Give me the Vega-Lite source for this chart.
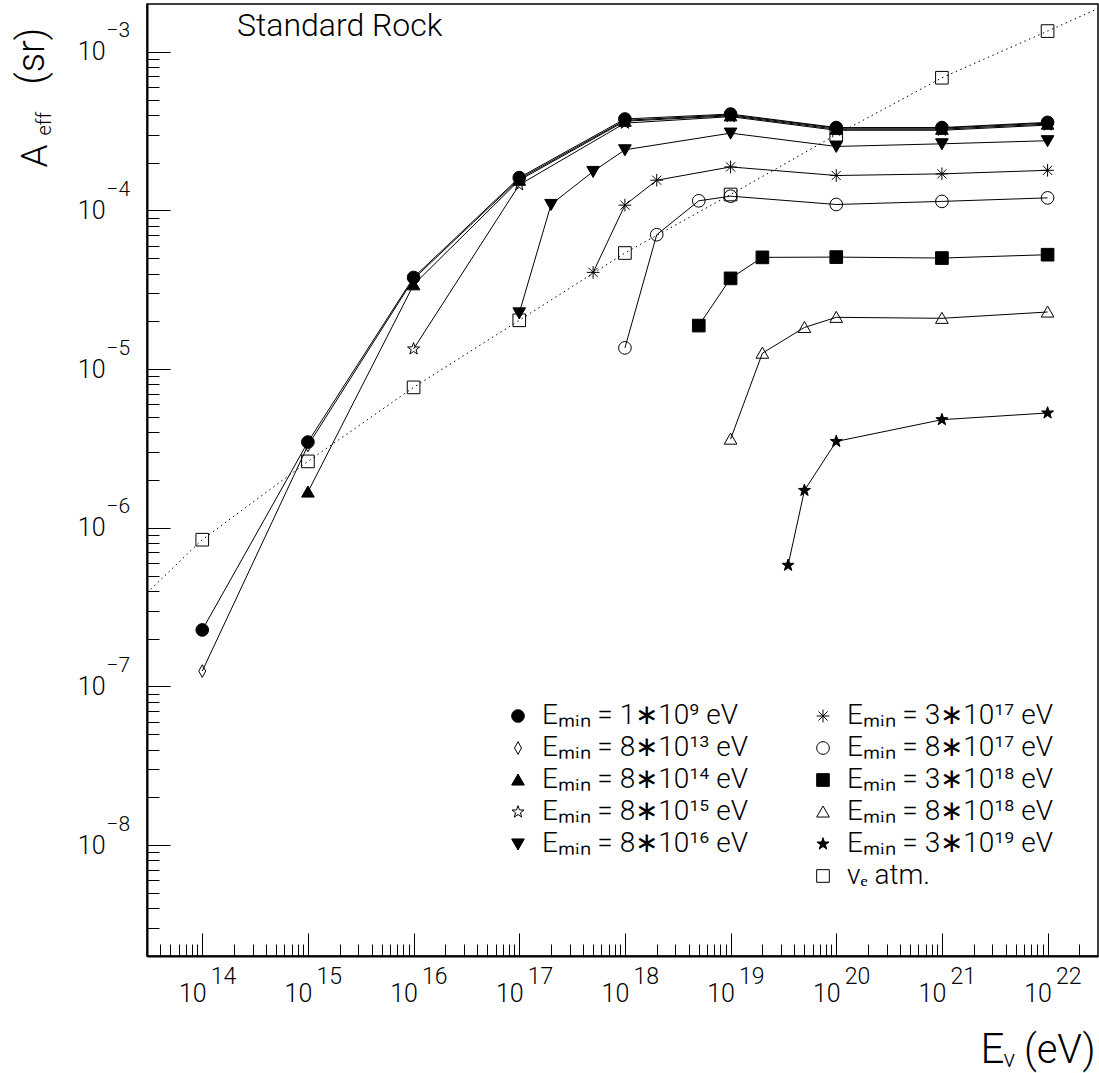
{
  "$schema": "https://vega.github.io/schema/vega-lite/v6.json",
  "autosize": "none",
  "width": 951,
  "height": 952,
  "padding": {"left": 147, "top": 4, "right": 1, "bottom": 117},
  "title": {"text": "Standard Rock", "anchor": "start", "frame": "group", "orient": "top", "offset": 0, "baseline": "alphabetic", "dx": 90, "dy": 64, "fontSize": 32, "font": "Roboto", "fontWeight": 300, "color": "black"},
  "datasets": {
    "curve": [
      {"E": 3e13, "A": 3.89e-7},
      {"E": 1e14, "A": 8.41e-7},
      {"E": 1e15, "A": 2.62e-6},
      {"E": 1e16, "A": 7.67e-6},
      {"E": 1e17, "A": 2.03e-5},
      {"E": 1e18, "A": 5.39e-5},
      {"E": 1e19, "A": 1.26e-4},
      {"E": 1e20, "A": 3.0e-4},
      {"E": 1e21, "A": 6.86e-4},
      {"E": 1e22, "A": 1.35e-3},
      {"E": 3e22, "A": 1.87e-3}
    ],
    "atm": [
      {"s": "νₑ atm.", "E": 1e14, "A": 8.41e-7},
      {"s": "νₑ atm.", "E": 1e15, "A": 2.62e-6},
      {"s": "νₑ atm.", "E": 1e16, "A": 7.67e-6},
      {"s": "νₑ atm.", "E": 1e17, "A": 2.03e-5},
      {"s": "νₑ atm.", "E": 1e18, "A": 5.39e-5},
      {"s": "νₑ atm.", "E": 1e19, "A": 1.26e-4},
      {"s": "νₑ atm.", "E": 1e20, "A": 3.0e-4},
      {"s": "νₑ atm.", "E": 1e21, "A": 6.86e-4},
      {"s": "νₑ atm.", "E": 1e22, "A": 1.35e-3}
    ],
    "series": [
      {"s": "Eₘᵢₙ = 1∗10⁹ eV", "E": 1e14, "A": 2.27e-7},
      {"s": "Eₘᵢₙ = 1∗10⁹ eV", "E": 1e15, "A": 3.47e-6},
      {"s": "Eₘᵢₙ = 1∗10⁹ eV", "E": 1e16, "A": 3.78e-5},
      {"s": "Eₘᵢₙ = 1∗10⁹ eV", "E": 1e17, "A": 1.61e-4},
      {"s": "Eₘᵢₙ = 1∗10⁹ eV", "E": 1e18, "A": 3.77e-4},
      {"s": "Eₘᵢₙ = 1∗10⁹ eV", "E": 1e19, "A": 4.05e-4},
      {"s": "Eₘᵢₙ = 1∗10⁹ eV", "E": 1e20, "A": 3.33e-4},
      {"s": "Eₘᵢₙ = 1∗10⁹ eV", "E": 1e21, "A": 3.33e-4},
      {"s": "Eₘᵢₙ = 1∗10⁹ eV", "E": 1e22, "A": 3.59e-4},
      {"s": "Eₘᵢₙ = 8∗10¹³ eV", "E": 1e14, "A": 1.25e-7},
      {"s": "Eₘᵢₙ = 8∗10¹³ eV", "E": 1e15, "A": 3.3e-6},
      {"s": "Eₘᵢₙ = 8∗10¹³ eV", "E": 1e16, "A": 3.7e-5},
      {"s": "Eₘᵢₙ = 8∗10¹³ eV", "E": 1e17, "A": 1.58e-4},
      {"s": "Eₘᵢₙ = 8∗10¹³ eV", "E": 1e18, "A": 3.7e-4},
      {"s": "Eₘᵢₙ = 8∗10¹³ eV", "E": 1e19, "A": 4.0e-4},
      {"s": "Eₘᵢₙ = 8∗10¹³ eV", "E": 1e20, "A": 3.3e-4},
      {"s": "Eₘᵢₙ = 8∗10¹³ eV", "E": 1e21, "A": 3.3e-4},
      {"s": "Eₘᵢₙ = 8∗10¹³ eV", "E": 1e22, "A": 3.55e-4},
      {"s": "Eₘᵢₙ = 8∗10¹⁴ eV", "E": 1e15, "A": 1.68e-6},
      {"s": "Eₘᵢₙ = 8∗10¹⁴ eV", "E": 1e16, "A": 3.4e-5},
      {"s": "Eₘᵢₙ = 8∗10¹⁴ eV", "E": 1e17, "A": 1.55e-4},
      {"s": "Eₘᵢₙ = 8∗10¹⁴ eV", "E": 1e18, "A": 3.65e-4},
      {"s": "Eₘᵢₙ = 8∗10¹⁴ eV", "E": 1e19, "A": 3.95e-4},
      {"s": "Eₘᵢₙ = 8∗10¹⁴ eV", "E": 1e20, "A": 3.25e-4},
      {"s": "Eₘᵢₙ = 8∗10¹⁴ eV", "E": 1e21, "A": 3.25e-4},
      {"s": "Eₘᵢₙ = 8∗10¹⁴ eV", "E": 1e22, "A": 3.5e-4},
      {"s": "Eₘᵢₙ = 8∗10¹⁵ eV", "E": 1e16, "A": 1.34e-5},
      {"s": "Eₘᵢₙ = 8∗10¹⁵ eV", "E": 1e17, "A": 1.45e-4},
      {"s": "Eₘᵢₙ = 8∗10¹⁵ eV", "E": 1e18, "A": 3.55e-4},
      {"s": "Eₘᵢₙ = 8∗10¹⁵ eV", "E": 1e19, "A": 3.9e-4},
      {"s": "Eₘᵢₙ = 8∗10¹⁵ eV", "E": 1e20, "A": 3.2e-4},
      {"s": "Eₘᵢₙ = 8∗10¹⁵ eV", "E": 1e21, "A": 3.2e-4},
      {"s": "Eₘᵢₙ = 8∗10¹⁵ eV", "E": 1e22, "A": 3.45e-4},
      {"s": "Eₘᵢₙ = 8∗10¹⁶ eV", "E": 1e17, "A": 2.26e-5},
      {"s": "Eₘᵢₙ = 8∗10¹⁶ eV", "E": 2e17, "A": 1.09e-4},
      {"s": "Eₘᵢₙ = 8∗10¹⁶ eV", "E": 5e17, "A": 1.76e-4},
      {"s": "Eₘᵢₙ = 8∗10¹⁶ eV", "E": 1e18, "A": 2.41e-4},
      {"s": "Eₘᵢₙ = 8∗10¹⁶ eV", "E": 1e19, "A": 3.07e-4},
      {"s": "Eₘᵢₙ = 8∗10¹⁶ eV", "E": 1e20, "A": 2.53e-4},
      {"s": "Eₘᵢₙ = 8∗10¹⁶ eV", "E": 1e21, "A": 2.63e-4},
      {"s": "Eₘᵢₙ = 8∗10¹⁶ eV", "E": 1e22, "A": 2.75e-4},
      {"s": "Eₘᵢₙ = 3∗10¹⁷ eV", "E": 5e17, "A": 4.07e-5},
      {"s": "Eₘᵢₙ = 3∗10¹⁷ eV", "E": 1e18, "A": 1.08e-4},
      {"s": "Eₘᵢₙ = 3∗10¹⁷ eV", "E": 2e18, "A": 1.55e-4},
      {"s": "Eₘᵢₙ = 3∗10¹⁷ eV", "E": 1e19, "A": 1.88e-4},
      {"s": "Eₘᵢₙ = 3∗10¹⁷ eV", "E": 1e20, "A": 1.66e-4},
      {"s": "Eₘᵢₙ = 3∗10¹⁷ eV", "E": 1e21, "A": 1.7e-4},
      {"s": "Eₘᵢₙ = 3∗10¹⁷ eV", "E": 1e22, "A": 1.79e-4},
      {"s": "Eₘᵢₙ = 8∗10¹⁷ eV", "E": 1e18, "A": 1.36e-5},
      {"s": "Eₘᵢₙ = 8∗10¹⁷ eV", "E": 2e18, "A": 7.03e-5},
      {"s": "Eₘᵢₙ = 8∗10¹⁷ eV", "E": 5e18, "A": 1.15e-4},
      {"s": "Eₘᵢₙ = 8∗10¹⁷ eV", "E": 1e19, "A": 1.23e-4},
      {"s": "Eₘᵢₙ = 8∗10¹⁷ eV", "E": 1e20, "A": 1.09e-4},
      {"s": "Eₘᵢₙ = 8∗10¹⁷ eV", "E": 1e21, "A": 1.14e-4},
      {"s": "Eₘᵢₙ = 8∗10¹⁷ eV", "E": 1e22, "A": 1.2e-4},
      {"s": "Eₘᵢₙ = 3∗10¹⁸ eV", "E": 5e18, "A": 1.88e-5},
      {"s": "Eₘᵢₙ = 3∗10¹⁸ eV", "E": 1e19, "A": 3.73e-5},
      {"s": "Eₘᵢₙ = 3∗10¹⁸ eV", "E": 2e19, "A": 5.06e-5},
      {"s": "Eₘᵢₙ = 3∗10¹⁸ eV", "E": 1e20, "A": 5.08e-5},
      {"s": "Eₘᵢₙ = 3∗10¹⁸ eV", "E": 1e21, "A": 5.01e-5},
      {"s": "Eₘᵢₙ = 3∗10¹⁸ eV", "E": 1e22, "A": 5.26e-5},
      {"s": "Eₘᵢₙ = 8∗10¹⁸ eV", "E": 1e19, "A": 3.62e-6},
      {"s": "Eₘᵢₙ = 8∗10¹⁸ eV", "E": 2e19, "A": 1.26e-5},
      {"s": "Eₘᵢₙ = 8∗10¹⁸ eV", "E": 5e19, "A": 1.83e-5},
      {"s": "Eₘᵢₙ = 8∗10¹⁸ eV", "E": 1e20, "A": 2.12e-5},
      {"s": "Eₘᵢₙ = 8∗10¹⁸ eV", "E": 1e21, "A": 2.09e-5},
      {"s": "Eₘᵢₙ = 8∗10¹⁸ eV", "E": 1e22, "A": 2.29e-5},
      {"s": "Eₘᵢₙ = 3∗10¹⁹ eV", "E": 3.5e19, "A": 5.8e-7},
      {"s": "Eₘᵢₙ = 3∗10¹⁹ eV", "E": 5e19, "A": 1.72e-6},
      {"s": "Eₘᵢₙ = 3∗10¹⁹ eV", "E": 1e20, "A": 3.5e-6},
      {"s": "Eₘᵢₙ = 3∗10¹⁹ eV", "E": 1e21, "A": 4.8e-6},
      {"s": "Eₘᵢₙ = 3∗10¹⁹ eV", "E": 1e22, "A": 5.29e-6}
    ]
  },
  "layer": [
    {
      "data": {"name": "curve"},
      "mark": {"type": "line", "stroke": "black", "strokeWidth": 1, "strokeDash": [1.5, 3.5]},
      "encoding": {
        "x": {"field": "E", "type": "quantitative", "scale": {"type": "log", "domain": [3e13, 3e22], "nice": false},
          "axis": {"orient": "bottom", "values": [3e13,4e13,5e13,6e13,7e13,8e13,9e13,2e14,3e14,4e14,5e14,6e14,7e14,8e14,9e14,2e15,3e15,4e15,5e15,6e15,7e15,8e15,9e15,2e16,3e16,4e16,5e16,6e16,7e16,8e16,9e16,2e17,3e17,4e17,5e17,6e17,7e17,8e17,9e17,2e18,3e18,4e18,5e18,6e18,7e18,8e18,9e18,2e19,3e19,4e19,5e19,6e19,7e19,8e19,9e19,2e20,3e20,4e20,5e20,6e20,7e20,8e20,9e20,2e21,3e21,4e21,5e21,6e21,7e21,8e21,9e21,2e22],
            "ticks": true, "tickSize": -12, "labels": false, "domain": false, "grid": false,
            "title": "(eV)", "titleFontSize": 40, "titleAngle": 0, "titleAlign": "right", "titleBaseline": "alphabetic", "titleX": 948, "titleY": 106}},
        "y": {"field": "A", "type": "quantitative", "scale": {"type": "log", "domain": [2e-9, 2e-3], "nice": false},
          "axis": {"orient": "left", "values": [2e-9,3e-9,4e-9,5e-9,6e-9,7e-9,8e-9,9e-9,2e-8,3e-8,4e-8,5e-8,6e-8,7e-8,8e-8,9e-8,2e-7,3e-7,4e-7,5e-7,6e-7,7e-7,8e-7,9e-7,2e-6,3e-6,4e-6,5e-6,6e-6,7e-6,8e-6,9e-6,2e-5,3e-5,4e-5,5e-5,6e-5,7e-5,8e-5,9e-5,2e-4,3e-4,4e-4,5e-4,6e-4,7e-4,8e-4,9e-4],
            "ticks": true, "tickSize": -12, "labels": false, "domain": false, "grid": false,
            "title": "(sr)", "titleFontSize": 38, "titleAngle": 270, "titleAlign": "left", "titleBaseline": "alphabetic", "titleX": -104, "titleY": 80}}
      }
    },
    {
      "data": {"name": "series"},
      "mark": {"type": "line", "stroke": "black", "strokeWidth": 1},
      "encoding": {
        "x": {"field": "E", "type": "quantitative", "scale": {"type": "log", "domain": [3e13, 3e22], "nice": false},
          "axis": {"orient": "bottom", "values": [1e14,1e15,1e16,1e17,1e18,1e19,1e20,1e21,1e22], "ticks": true, "tickSize": -23, "labels": false, "domain": true, "domainWidth": 2, "grid": false,
            "title": "E", "titleFontSize": 42, "titleAngle": 0, "titleAlign": "left", "titleBaseline": "alphabetic", "titleX": 833, "titleY": 106}},
        "y": {"field": "A", "type": "quantitative", "scale": {"type": "log", "domain": [2e-9, 2e-3], "nice": false},
          "axis": {"orient": "left", "values": [1e-8,1e-7,1e-6,1e-5,1e-4,1e-3], "ticks": true, "tickSize": -23, "labels": false, "domain": true, "domainWidth": 2, "grid": false,
            "title": "A", "titleFontSize": 37, "titleAlign": "left", "titleBaseline": "alphabetic", "titleY": 163, "titlePadding": 100}},
        "detail": {"field": "s", "type": "nominal"}
      }
    },
    {
      "data": {"name": "series"},
      "mark": {"type": "point", "strokeWidth": 1, "opacity": 1, "size": 160},
      "encoding": {
        "x": {"field": "E", "type": "quantitative", "scale": {"type": "log", "domain": [3e13, 3e22], "nice": false},
          "axis": {"orient": "bottom", "values": [1e14,1e15,1e16,1e17,1e18,1e19,1e20,1e21,1e22], "ticks": false, "domain": false, "grid": false, "labelExpr": "'10'", "labelFontSize": 25, "labelAlign": "center", "labelBaseline": "alphabetic", "labelOffset": -10, "labelPadding": 45,
            "title": "ν", "titleFontSize": 24, "titleAngle": 0, "titleAlign": "left", "titleBaseline": "alphabetic", "titleX": 856, "titleY": 110}},
        "y": {"field": "A", "type": "quantitative", "scale": {"type": "log", "domain": [2e-9, 2e-3], "nice": false},
          "axis": {"orient": "left", "values": [1e-8,1e-7,1e-6,1e-5,1e-4,1e-3], "ticks": false, "domain": false, "grid": false, "labelExpr": "'10'", "labelFontSize": 25, "labelAlign": "right", "labelBaseline": "alphabetic", "labelOffset": 8, "labelPadding": 42,
            "title": "eff", "titleFontSize": 20, "titleAngle": -90, "titleAlign": "left", "titleBaseline": "alphabetic", "titleX": -97, "titleY": 131,
            "encoding": {"title": {"angle": {"value": -90}}}}},
        "shape": {"field": "s", "type": "nominal",
          "scale": {
            "domain": ["Eₘᵢₙ = 1∗10⁹ eV", "Eₘᵢₙ = 8∗10¹³ eV", "Eₘᵢₙ = 8∗10¹⁴ eV", "Eₘᵢₙ = 8∗10¹⁵ eV", "Eₘᵢₙ = 8∗10¹⁶ eV", " ", "Eₘᵢₙ = 3∗10¹⁷ eV", "Eₘᵢₙ = 8∗10¹⁷ eV", "Eₘᵢₙ = 3∗10¹⁸ eV", "Eₘᵢₙ = 8∗10¹⁸ eV", "Eₘᵢₙ = 3∗10¹⁹ eV", "νₑ atm."],
            "range": ["circle", "M0,-1L0.55,0L0,1L-0.55,0Z", "M0,-0.95L1,0.8L-1,0.8Z", "M0,-1L0.235,-0.324L0.951,-0.309L0.38,0.124L0.588,0.809L0,0.4L-0.588,0.809L-0.38,0.124L-0.951,-0.309L-0.235,-0.324Z", "M0,0.95L1,-0.8L-1,-0.8Z", "M0,0", "M-1,0L1,0M0,-1L0,1M-0.72,-0.72L0.72,0.72M-0.72,0.72L0.72,-0.72", "circle", "square", "M0,-0.95L1,0.8L-1,0.8Z", "M0,-1L0.235,-0.324L0.951,-0.309L0.38,0.124L0.588,0.809L0,0.4L-0.588,0.809L-0.38,0.124L-0.951,-0.309L-0.235,-0.324Z", "square"]},
          "legend": {"orient": "none", "legendX": 357, "legendY": 698, "columns": 2, "title": null, "labelFontSize": 28, "symbolSize": 160, "rowPadding": 4, "columnPadding": 60, "labelOffset": 10, "padding": 0, "symbolStrokeWidth": 1, "labelLimit": 500}},
        "fill": {"field": "s", "type": "nominal",
          "scale": {
            "domain": ["Eₘᵢₙ = 1∗10⁹ eV", "Eₘᵢₙ = 8∗10¹³ eV", "Eₘᵢₙ = 8∗10¹⁴ eV", "Eₘᵢₙ = 8∗10¹⁵ eV", "Eₘᵢₙ = 8∗10¹⁶ eV", " ", "Eₘᵢₙ = 3∗10¹⁷ eV", "Eₘᵢₙ = 8∗10¹⁷ eV", "Eₘᵢₙ = 3∗10¹⁸ eV", "Eₘᵢₙ = 8∗10¹⁸ eV", "Eₘᵢₙ = 3∗10¹⁹ eV", "νₑ atm."],
            "range": ["black", "transparent", "black", "transparent", "black", "transparent", "transparent", "transparent", "black", "transparent", "black", "transparent"]},
          "legend": {"orient": "none", "legendX": 357, "legendY": 698, "columns": 2, "title": null, "labelFontSize": 28, "symbolSize": 160, "rowPadding": 4, "columnPadding": 60, "labelOffset": 10, "padding": 0, "symbolStrokeWidth": 1, "labelLimit": 500}},
        "stroke": {"field": "s", "type": "nominal",
          "scale": {
            "domain": ["Eₘᵢₙ = 1∗10⁹ eV", "Eₘᵢₙ = 8∗10¹³ eV", "Eₘᵢₙ = 8∗10¹⁴ eV", "Eₘᵢₙ = 8∗10¹⁵ eV", "Eₘᵢₙ = 8∗10¹⁶ eV", " ", "Eₘᵢₙ = 3∗10¹⁷ eV", "Eₘᵢₙ = 8∗10¹⁷ eV", "Eₘᵢₙ = 3∗10¹⁸ eV", "Eₘᵢₙ = 8∗10¹⁸ eV", "Eₘᵢₙ = 3∗10¹⁹ eV", "νₑ atm."],
            "range": ["black", "black", "black", "black", "black", "black", "black", "black", "black", "black", "black", "black"]},
          "legend": {"orient": "none", "legendX": 357, "legendY": 698, "columns": 2, "title": null, "labelFontSize": 28, "symbolSize": 160, "rowPadding": 4, "columnPadding": 60, "labelOffset": 10, "padding": 0, "symbolStrokeWidth": 1, "labelLimit": 500}}
      }
    },
    {
      "data": {"name": "atm"},
      "mark": {"type": "point", "strokeWidth": 1, "opacity": 1, "size": 160},
      "encoding": {
        "x": {"field": "E", "type": "quantitative", "scale": {"type": "log", "domain": [3e13, 3e22], "nice": false},
          "axis": {"orient": "bottom", "values": [1e14,1e15,1e16,1e17,1e18,1e19,1e20,1e21,1e22], "ticks": false, "domain": false, "grid": false, "labelExpr": "format(log(datum.value)/LN10, '.0f')", "labelFontSize": 23, "labelAlign": "left", "labelBaseline": "alphabetic", "labelOffset": 8, "labelPadding": 27, "title": null}},
        "y": {"field": "A", "type": "quantitative", "scale": {"type": "log", "domain": [2e-9, 2e-3], "nice": false},
          "axis": {"orient": "left", "values": [1e-8,1e-7,1e-6,1e-5,1e-4,1e-3], "ticks": false, "domain": false, "grid": false, "labelExpr": "'−' + format(-log(datum.value)/LN10, '.0f')", "labelFontSize": 21, "labelAlign": "left", "labelBaseline": "alphabetic", "labelOffset": -15, "labelPadding": 41, "title": null}},
        "shape": {"field": "s", "type": "nominal",
          "legend": {"orient": "none", "legendX": 357, "legendY": 698, "columns": 2, "title": null, "labelFontSize": 28, "symbolSize": 160, "rowPadding": 4, "columnPadding": 60, "labelOffset": 10, "padding": 0, "symbolStrokeWidth": 1, "labelLimit": 500}},
        "fill": {"field": "s", "type": "nominal",
          "legend": {"orient": "none", "legendX": 357, "legendY": 698, "columns": 2, "title": null, "labelFontSize": 28, "symbolSize": 160, "rowPadding": 4, "columnPadding": 60, "labelOffset": 10, "padding": 0, "symbolStrokeWidth": 1, "labelLimit": 500}},
        "stroke": {"field": "s", "type": "nominal",
          "legend": {"orient": "none", "legendX": 357, "legendY": 698, "columns": 2, "title": null, "labelFontSize": 28, "symbolSize": 160, "rowPadding": 4, "columnPadding": 60, "labelOffset": 10, "padding": 0, "symbolStrokeWidth": 1, "labelLimit": 500}}
      }
    }
  ],
  "resolve": {"axis": {"x": "independent", "y": "independent"}},
  "config": {
    "view": {"stroke": "black", "strokeWidth": 1.5},
    "font": "Roboto",
    "axis": {"labelFont": "Roboto", "labelFontWeight": 300, "labelColor": "black", "titleFont": "Roboto", "titleFontWeight": 300, "titleColor": "black", "tickColor": "black", "tickWidth": 1, "domainColor": "black", "labelOverlap": false, "labelFlush": false, "labelBound": false, "grid": false, "titlePadding": 0},
    "legend": {"labelFont": "Roboto", "labelFontWeight": 300, "labelColor": "black"}
  }
}
